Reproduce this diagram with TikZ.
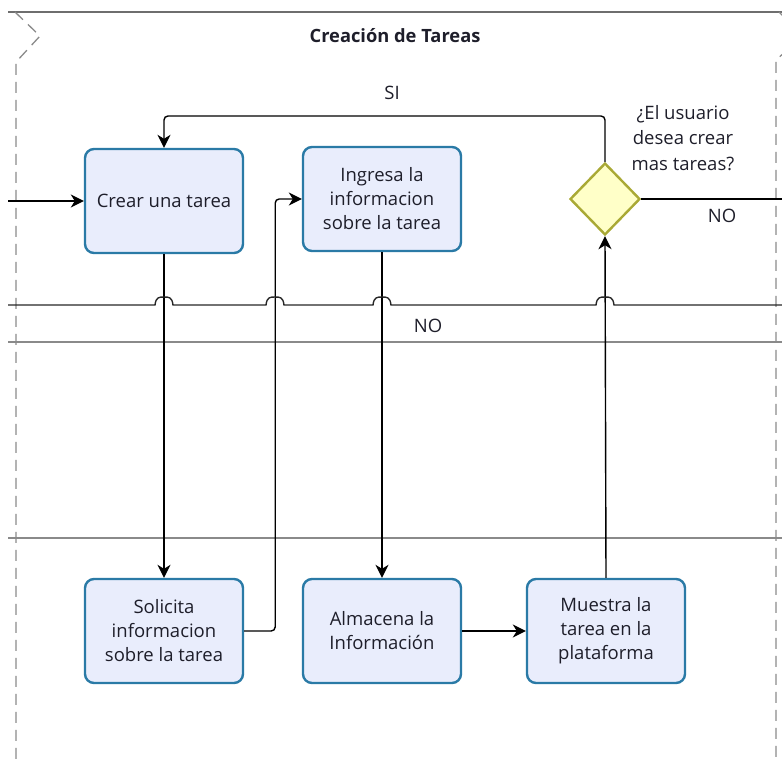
\documentclass[tikz,border=0pt]{standalone}
\usepackage{fontspec}
\setmainfont{Open Sans}
\usetikzlibrary{arrows.meta,shapes.geometric,calc}
\definecolor{boxfill}{HTML}{E9EDFC}
\definecolor{boxline}{HTML}{2A7AA6}
\definecolor{diafill}{HTML}{FFFFC8}
\definecolor{dialine}{HTML}{A9A935}
\definecolor{txt}{HTML}{1E1E2A}
\definecolor{lane}{HTML}{8A8A8A}
\tikzset{
  taskbox/.style={draw=boxline,fill=boxfill,line width=2.4pt,rounded corners=9pt,
    minimum width=158pt,minimum height=104pt,align=center,text=txt,
    font=\fontsize{18.5}{24}\selectfont,inner sep=0pt},
  gate/.style={diamond,draw=dialine,fill=diafill,line width=2.4pt,minimum width=70pt,
    minimum height=72pt,inner sep=0pt},
  conn/.style={draw=black,line width=1.4pt,rounded corners=4pt},
  arr/.style={-{Stealth[length=13pt,width=13pt,inset=4pt]}},
  lbl/.style={text=txt,font=\fontsize{18.5}{25.5}\selectfont,align=center,inner sep=0pt},
  laneline/.style={draw=lane,line width=1.3pt},
  dashedb/.style={draw=lane,line width=1.3pt,dash pattern=on 11pt off 7pt},
}
\begin{document}
\begin{tikzpicture}[x=1pt,y=-1pt]
\useasboundingbox (0,0) rectangle (782,761);
\begin{scope}
\clip (0,0) rectangle (782,761);
% pool / lane borders
\draw[draw=lane!80!black,line width=1.8pt] (8,12) -- (782,12);
\draw[dashedb] (15,12) -- (40,36) -- (16,62) -- (16,761);
\draw[dashedb] (779,12) -- (803,36) -- (776,60) -- (776,761);
\draw[laneline] (8,342) -- (782,342);
\draw[laneline] (8,538) -- (782,538);
\node[font=\bfseries\fontsize{18.3}{22}\selectfont,text=txt] (title) at (395,36) {Creación de Tareas};

% nodes
\node[taskbox] (crear) at (164,201) {Crear una tarea};
\node[taskbox] (ingresa) at (382,199) {Ingresa la\\informacion\\sobre la tarea};
\node[taskbox] (solicita) at (164,631) {Solicita\\informacion\\sobre la tarea};
\node[taskbox] (almacena) at (382,631) {Almacena la\\Información};
\node[taskbox] (muestra) at (606,631) {Muestra la\\tarea en la\\plataforma};
\node[gate] (dia) at (605,199) {};

% coordinates
\coordinate (inL) at (8,201);
\coordinate (outR) at (782,199);
\coordinate (hopL) at (8,305);
\coordinate (hopR) at (782,305);

% connectors
\draw[conn,arr] (inL) -- (crear.west);
\draw[conn,arr] (crear.south) -- (solicita.north);
\draw[conn,arr] (solicita.east) -- ++(31,0) |- (ingresa.west);
\draw[conn,arr] (ingresa.south) -- (almacena.north);
\draw[conn,arr] (almacena.east) -- (muestra.west);
\draw[conn,arr] (muestra.north) -- (dia.south);
\draw[conn,arr] (dia.north) -- (dia.north |- 0,116) -| (crear.north);
\draw[conn] (dia.east) -- (outR);
% NO connector with line hops
\draw[draw=black!85,line width=1.4pt] (hopL)
  \foreach \hx in {164,275,382,605}{
    -- (\hx-9,305) .. controls (\hx-8,297) and (\hx-5,297) .. (\hx,297)
    .. controls (\hx+5,297) and (\hx+8,297) .. (\hx+9,305)
  } -- (hopR);

% labels
\node[lbl] (si) at (392,93) {SI};
\node[lbl] (q) at (683,138) {¿El usuario\\desea crear\\mas tareas?};
\node[lbl] (no1) at (722,216) {NO};
\node[lbl] (no2) at (428,326) {NO};
\end{scope}
\end{tikzpicture}
\end{document}
